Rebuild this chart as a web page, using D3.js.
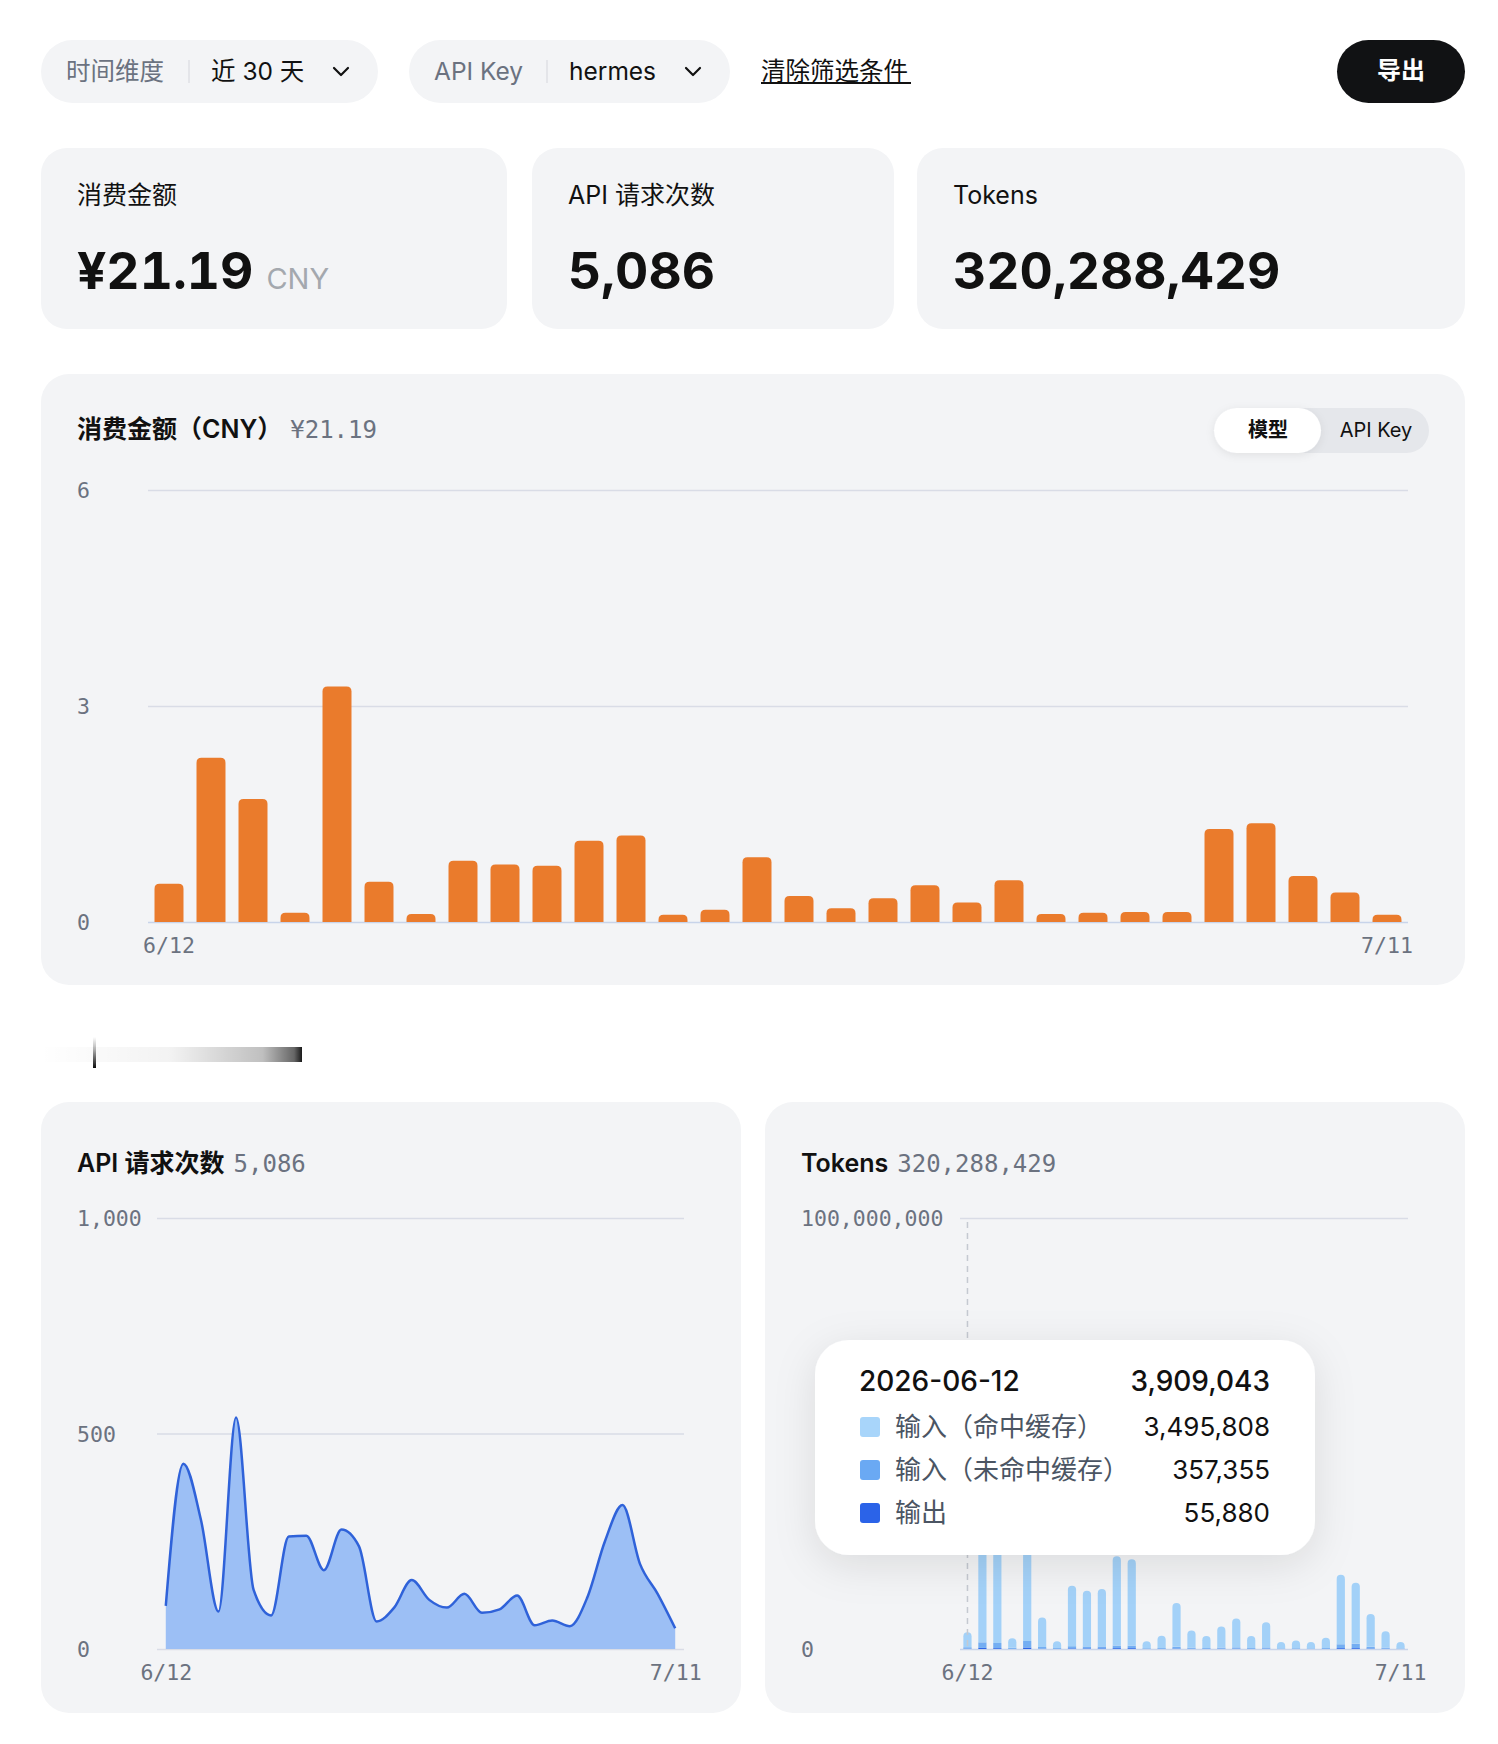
<!DOCTYPE html>
<html><head><meta charset="utf-8">
<script src="https://cdn.jsdelivr.net/npm/d3@7"></script>
<style>
body{margin:0;background:#fff}
svg{display:block}
text{font-family:Inter,"Noto Sans CJK SC",sans-serif}
</style></head><body>
<svg id="c" width="1498" height="1744"></svg>
<script>
// ---------- data ----------
const dates = ["6/12","6/13","6/14","6/15","6/16","6/17","6/18","6/19","6/20","6/21","6/22","6/23","6/24","6/25","6/26","6/27","6/28","6/29","6/30","7/1","7/2","7/3","7/4","7/5","7/6","7/7","7/8","7/9","7/10","7/11"];
const xTickLabels = ["6/12","7/11"];
const costValues = [0.53,2.28,1.71,0.13,3.27,0.56,0.11,0.85,0.80,0.78,1.13,1.20,0.10,0.17,0.90,0.36,0.19,0.33,0.51,0.27,0.58,0.11,0.13,0.14,0.14,1.29,1.37,0.64,0.41,0.10];
const costTicks = [0,3,6];
const requestValues = [100,430,300,87,537,137,78,261,263,183,277,238,64,96,160,114,96,128,84,92,124,55,66,53,120,250,334,197,128,48];
const requestTicks = [0,500,1000];
const tokensCached = [3495808,36450000,27600000,2220000,52950000,6820000,1570000,14050000,12910000,13310000,20700000,20050000,1620000,2860000,10200000,4000000,2760000,4890000,6720000,2760000,5830000,1460000,1820000,1460000,2370000,16100000,14200000,7600000,3800000,1480000];
const tokensUncached = [357355,1300000,1200000,250000,1500000,400000,200000,500000,450000,450000,600000,550000,150000,200000,400000,250000,200000,250000,300000,200000,300000,120000,150000,120000,200000,900000,1000000,400000,250000,100000];
const tokensOutput = [55880,250000,200000,30000,350000,80000,30000,150000,140000,140000,200000,200000,30000,40000,100000,50000,40000,60000,80000,40000,70000,20000,30000,20000,30000,200000,200000,100000,50000,20000];
const tokenTicks = [0,100000000];
const tokenSeriesNames = ["输入（命中缓存）","输入（未命中缓存）","输出"];
const tooltipDate = "2026-06-12";
const statLabels = ["消费金额","API 请求次数","Tokens"];
const statValues = ["¥21.19","5,086","320,288,429"];
const statUnits = ["CNY","",""];
const chartTitles = ["消费金额（CNY）","API 请求次数","Tokens"];
const chartTotals = ["¥21.19","5,086","320,288,429"];
const filterLabels = ["时间维度","API Key"];
const filterValues = ["近 30 天","hermes"];

// ---------- helpers ----------
const svg = d3.select("#c");
const defs = svg.append("defs");
const sh = defs.append("filter").attr("id","shadow").attr("x","-30%").attr("y","-40%").attr("width","160%").attr("height","190%");
sh.append("feDropShadow").attr("dx",0).attr("dy",10).attr("stdDeviation",20).attr("flood-color","#000").attr("flood-opacity",0.10);
const sh2 = defs.append("filter").attr("id","shadow2").attr("x","-30%").attr("y","-40%").attr("width","160%").attr("height","190%");
sh2.append("feDropShadow").attr("dx",0).attr("dy",2).attr("stdDeviation",4).attr("flood-color","#000").attr("flood-opacity",0.08);
const gh = defs.append("linearGradient").attr("id","gh").attr("x1","0").attr("x2","1").attr("y1","0").attr("y2","0");
[[0,0],[0.5,0.05],[0.85,0.25],[0.97,0.6],[1,0.9]].forEach(([o,a])=>gh.append("stop").attr("offset",o).attr("stop-color","#000").attr("stop-opacity",a));
const gv = defs.append("linearGradient").attr("id","gv").attr("x1","0").attr("x2","0").attr("y1","0").attr("y2","1");
[[0,0],[0.4,0.3],[1,0.95]].forEach(([o,a])=>gv.append("stop").attr("offset",o).attr("stop-color","#000").attr("stop-opacity",a));

function topRounded(x,y,w,h,r){
  r=Math.max(0,Math.min(r,w/2,h));
  return `M${x},${y+h}V${y+r}Q${x},${y} ${x+r},${y}H${x+w-r}Q${x+w},${y} ${x+w},${y+r}V${y+h}Z`;
}
const MONO = "'DejaVu Sans Mono', monospace";
function yAxis(y, ticks, x0, x1, labelX, fmt, baseColor){
  const ax = d3.axisLeft(y).tickValues(ticks).tickSize(-(x1-x0)).tickPadding(0).tickFormat(fmt);
  const g = svg.append("g").attr("transform",`translate(${x0},0)`).call(ax);
  g.select(".domain").remove();
  g.selectAll(".tick line").attr("stroke",d=>d===0?baseColor:"#d9dce6").attr("stroke-width",1.6);
  g.selectAll(".tick text").attr("x",labelX-x0).attr("text-anchor","start").style("font-family",MONO).style("font-size","21.5px").attr("fill","#6b7280").attr("dy","0.35em");
  return g;
}
function xAxis(x, yPos){
  const ax = d3.axisBottom(x).tickValues(xTickLabels).tickSize(0).tickPadding(16);
  const g = svg.append("g").attr("transform",`translate(0,${yPos})`).call(ax);
  g.select(".domain").remove();
  g.selectAll(".tick text").style("font-family",MONO).style("font-size","21.5px").attr("fill","#6b7280");
  return g;
}
function chevron(cx,cy){
  svg.append("path").attr("d",`M${cx-7},${cy-3}L${cx},${cy+4}L${cx+7},${cy-3}`).attr("fill","none").attr("stroke","#111").attr("stroke-width",2.2).attr("stroke-linecap","round").attr("stroke-linejoin","round");
}
function chartTitle(x,y,i){
  const t = svg.append("text").attr("x",x).attr("y",y).attr("dy","0.35em").attr("font-size",25);
  t.append("tspan").attr("font-weight",600).attr("fill","#111").text(chartTitles[i]);
  t.append("tspan").attr("dx",i===0?8:9).style("font-family",MONO).style("font-size","24px").attr("fill","#6b7280").text(chartTotals[i]);
}

// ---------- filter bar ----------
const pills = [{x:41,w:337,sep:189,vx:211,chev:341},{x:409,w:321,sep:547,vx:569,chev:693}];
pills.forEach((p,i)=>{
  svg.append("rect").attr("x",p.x).attr("y",40).attr("width",p.w).attr("height",63).attr("rx",31.5).attr("fill","#f3f4f6");
  svg.append("text").attr("x",p.x+25).attr("y",71).attr("dy","0.35em").attr("font-size",24.5).attr("fill","#6b7280").text(filterLabels[i]);
  svg.append("line").attr("x1",p.sep).attr("x2",p.sep).attr("y1",60).attr("y2",83).attr("stroke","#dfe1e5").attr("stroke-width",1.5);
  svg.append("text").attr("x",p.vx).attr("y",71).attr("dy","0.35em").attr("font-size",24.5).attr("fill","#111").text(filterValues[i]);
  chevron(p.chev,71);
});
svg.append("text").attr("x",761).attr("y",71).attr("dy","0.35em").attr("font-size",24.5).attr("fill","#111").text("清除筛选条件");
svg.append("line").attr("x1",761).attr("x2",911).attr("y1",83).attr("y2",83).attr("stroke","#111").attr("stroke-width",1.8);
svg.append("rect").attr("x",1337).attr("y",40).attr("width",128).attr("height",63).attr("rx",31.5).attr("fill","#111214");
svg.append("text").attr("x",1401).attr("y",71).attr("dy","0.35em").attr("text-anchor","middle").attr("font-size",24).attr("font-weight",700).attr("fill","#fff").text("导出");

// ---------- stat cards ----------
const statCards = [{x:41,w:466},{x:532,w:362},{x:917,w:548}];
statCards.forEach((c,i)=>{
  svg.append("rect").attr("x",c.x).attr("y",148).attr("width",c.w).attr("height",181).attr("rx",26).attr("fill","#f3f4f6");
  svg.append("text").attr("x",c.x+36).attr("y",195).attr("dy","0.35em").attr("font-size",25).attr("fill","#111").text(statLabels[i]);
  const t = svg.append("text").attr("x",c.x+36).attr("y",289).attr("font-size",51.5).attr("font-weight",700).attr("fill","#111").style("font-variant-numeric","tabular-nums");
  t.append("tspan").text(statValues[i]);
  if(statUnits[i]) t.append("tspan").attr("dx",13).attr("font-size",29).attr("font-weight",400).attr("fill","#a4a8ae").text(statUnits[i]);
});

// ---------- cost bar chart ----------
svg.append("rect").attr("x",41).attr("y",374).attr("width",1424).attr("height",611).attr("rx",28).attr("fill","#f3f4f6");
chartTitle(77,429,0);
svg.append("rect").attr("x",1214).attr("y",408).attr("width",215).attr("height",45).attr("rx",22.5).attr("fill","#e5e7eb");
svg.append("rect").attr("x",1214).attr("y",408).attr("width",107).attr("height",45).attr("rx",22.5).attr("fill","#fff").attr("filter","url(#shadow2)");
svg.append("text").attr("x",1268).attr("y",430).attr("dy","0.35em").attr("text-anchor","middle").attr("font-size",20).attr("font-weight",600).attr("fill","#111").text("模型");
svg.append("text").attr("x",1376).attr("y",430).attr("dy","0.35em").attr("text-anchor","middle").attr("font-size",20).attr("fill","#111").text("API Key");

const xc = d3.scaleBand().domain(dates).range([148,1408]).paddingInner(0.31).paddingOuter(0.155);
const yc = d3.scaleLinear().domain([0,6]).range([922,490]);
yAxis(yc, costTicks, 148, 1408, 77, d3.format("d"), "#c8d4ea");
svg.append("g").selectAll("path").data(costValues).join("path")
  .attr("d",(d,i)=>topRounded(xc(dates[i]), yc(d), xc.bandwidth(), yc(0)-yc(d), 5))
  .attr("fill","#ea7b2c");
xAxis(xc, 922);

// ---------- scroll artifact ----------
svg.append("rect").attr("x",40).attr("y",1047).attr("width",262).attr("height",15).attr("fill","url(#gh)");
svg.append("rect").attr("x",93).attr("y",1037).attr("width",3).attr("height",31).attr("fill","url(#gv)");

// ---------- requests area chart ----------
svg.append("rect").attr("x",41).attr("y",1102).attr("width",700).attr("height",611).attr("rx",28).attr("fill","#f3f4f6");
chartTitle(77,1163,1);
const xr = d3.scalePoint().domain(dates).range([157,684]).padding(0.5);
const yr = d3.scaleLinear().domain([0,1000]).range([1649,1218]);
yAxis(yr, requestTicks, 157, 684, 77, d3.format(","), "#d9dce6");
const area = d3.area().x((d,i)=>xr(dates[i])).y0(yr(0)).y1(d=>yr(d)).curve(d3.curveMonotoneX);
const line = d3.line().x((d,i)=>xr(dates[i])).y(d=>yr(d)).curve(d3.curveMonotoneX);
svg.append("path").datum(requestValues).attr("d",area).attr("fill","#9cbff5");
svg.append("path").datum(requestValues).attr("d",line).attr("fill","none").attr("stroke","#2f62d9").attr("stroke-width",2.5);
xAxis(xr, 1649);

// ---------- tokens stacked bar chart ----------
svg.append("rect").attr("x",765).attr("y",1102).attr("width",700).attr("height",611).attr("rx",28).attr("fill","#f3f4f6");
chartTitle(801,1163,2);
const xt = d3.scaleBand().domain(dates).range([960,1408]).paddingInner(0.45).paddingOuter(0.225);
const yt = d3.scaleLinear().domain([0,100000000]).range([1649,1218]);
yAxis(yt, tokenTicks, 960, 1408, 801, d3.format(","), "#c8d4ea");
const tokenRows = dates.map((d,i)=>({date:d, output:tokensOutput[i], uncached:tokensUncached[i], cached:tokensCached[i]}));
const stack = d3.stack().keys(["output","uncached","cached"])(tokenRows);
const tokColors = {output:"#2f66e6", uncached:"#74aef2", cached:"#a3d1f8"};
stack.forEach(layer=>{
  svg.append("g").selectAll("path").data(layer).join("path")
    .attr("d",(d,i)=>{
      const x=xt(dates[i]), w=xt.bandwidth(), y1=yt(d[1]), y0=yt(d[0]);
      return layer.key==="cached" ? topRounded(x,y1,w,y0-y1,w/2) : `M${x},${y0}V${y1}H${x+w}V${y0}Z`;
    })
    .attr("fill",tokColors[layer.key]);
});
const px = xt(dates[0]) + xt.bandwidth()/2;
svg.append("line").attr("x1",px).attr("x2",px).attr("y1",yt(100000000)+4).attr("y2",yt(0)).attr("stroke","#c5c9d1").attr("stroke-width",1.5).attr("stroke-dasharray","6,5");
xAxis(xt, 1649);

// tooltip
svg.append("rect").attr("x",815).attr("y",1340).attr("width",500).attr("height",215).attr("rx",34).attr("fill","#fff").attr("filter","url(#shadow)");
svg.append("text").attr("x",859).attr("y",1381).attr("dy","0.35em").attr("font-size",28).attr("font-weight",500).attr("fill","#111").text(tooltipDate);
svg.append("text").attr("x",1270).attr("y",1381).attr("dy","0.35em").attr("text-anchor","end").attr("font-size",28).attr("font-weight",500).attr("fill","#111")
  .text(d3.format(",")(tokensCached[0]+tokensUncached[0]+tokensOutput[0]));
const tipVals = [tokensCached[0], tokensUncached[0], tokensOutput[0]];
const tipColors = ["#a8d5fa","#6aa9f3","#2b63e8"];
tokenSeriesNames.forEach((n,i)=>{
  const cy = 1427 + i*43;
  svg.append("rect").attr("x",860).attr("y",cy-10).attr("width",20).attr("height",20).attr("rx",3).attr("fill",tipColors[i]);
  svg.append("text").attr("x",895).attr("y",cy).attr("dy","0.35em").attr("font-size",26).attr("fill","#4b5563").text(n);
  svg.append("text").attr("x",1270).attr("y",cy).attr("dy","0.35em").attr("text-anchor","end").attr("font-size",26).attr("fill","#111").text(d3.format(",")(tipVals[i]));
});
</script>
</body></html>
